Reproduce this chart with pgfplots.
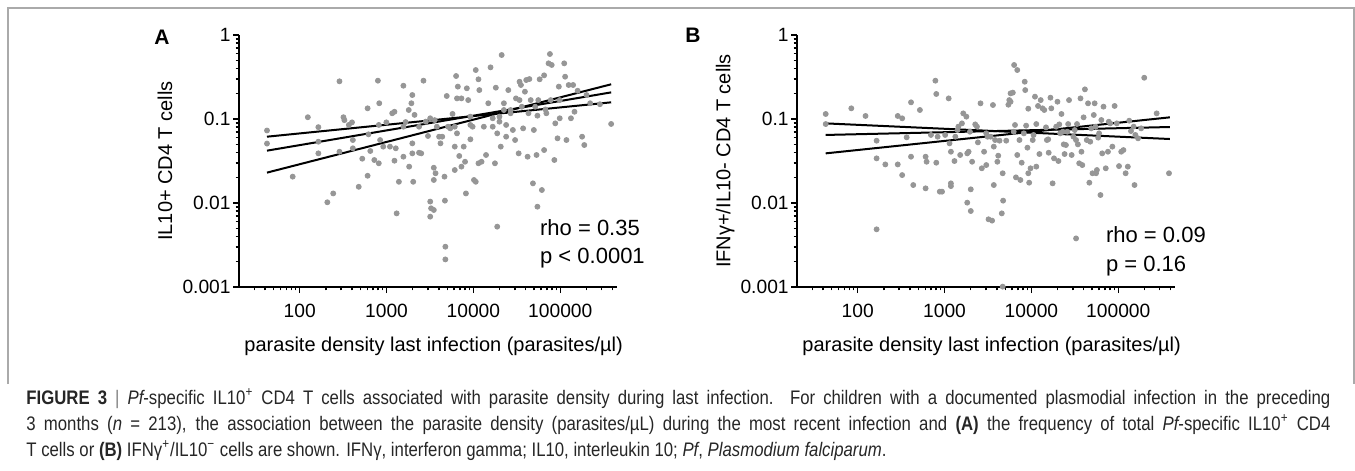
\documentclass[border=0pt]{standalone}
\usepackage{fontspec}
\setmainfont{Liberation Sans}
\newfontfamily\capfont[FakeStretch=0.855]{Liberation Sans}
\usepackage{pgfplots}
\usepackage{pgfplotstable}
\pgfplotsset{compat=1.18}
\definecolor{ptcol}{RGB}{150,150,150}
\definecolor{framecol}{RGB}{170,170,170}

\pgfplotstableread{
x y
42 0.073
42 0.051
83 0.0206
124 0.105
164 0.080
164 0.0537
164 0.039
208 0.0102
243 0.013
287 0.281
319 0.105
327 0.097
400 0.0912
368 0.085
409 0.0562
409 0.0448
287 0.0408
478 0.0156
525 0.0337
605 0.134
605 0.0211
620 0.0657
650 0.0416
723 0.0325
795 0.286
814 0.0297
814 0.085
824 0.154
843 0.0562
916 0.0469
995 0.0912
1094 0.0469
1161 0.117
1233 0.0319
1233 0.122
1277 0.0448
1306 0.00753
1387 0.0179
1563 0.249
1563 0.0356
1656 0.092
1800 0.128
1820 0.0271
1932 0.154
1980 0.193
1980 0.0513
1980 0.039
2027 0.0179
2100 0.112
2366 0.081
2366 0.0397
2506 0.039
2661 0.286
2825 0.093
2998 0.0628
3180 0.102
3180 0.00688
3180 0.0104
3256 0.00865
3499 0.00826
3499 0.0263
3664 0.0226
3499 0.0188
3581 0.097
3795 0.081
4027 0.0616
4176 0.0513
4375 0.0616
4699 0.01067
4754 0.00302
4754 0.00213
4645 0.0206
4932 0.188
5108 0.081
5418 0.0774
5750 0.115
6100 0.081
6100 0.0469
6100 0.0247
6320 0.325
6470 0.176
6620 0.243
6870 0.0363
7280 0.0271
7280 0.176
7730 0.0469
8010 0.031
8200 0.013
8400 0.232
8710 0.168
9230 0.0573
9230 0.1067
9790 0.081
10150 0.0188
10640 0.0179
10640 0.383
11430 0.297
11430 0.0297
11700 0.221
12400 0.031
13180 0.081
13970 0.0373
14830 0.154
15740 0.412
16680 0.102
16680 0.081
17700 0.0297
18120 0.236
18790 0.00523
19950 0.1067
19950 0.093
20650 0.0469
21150 0.578
22440 0.154
23820 0.085
23820 0.0616
25230 0.221
26790 0.128
28440 0.074
30200 0.0562
30900 0.176
33190 0.039
33970 0.278
35240 0.254
36060 0.140
37350 0.0774
39170 0.2115
40570 0.291
42060 0.0356
44060 0.299
45690 0.168
48450 0.01714
49620 0.074
51420 0.140
53300 0.0373
54560 0.00904
54560 0.1096
55850 0.168
57920 0.297
61400 0.01428
65160 0.0427
65160 0.331
67450 0.130
69150 0.117
73300 0.46
76000 0.594
79700 0.44
85500 0.0325
87600 0.0888
93000 0.0589
96300 0.243
98600 0.102
111000 0.46
113700 0.319
117800 0.0562
125000 0.254
132700 0.102
140600 0.254
145800 0.122
158500 0.217
178400 0.0616
189100 0.049
200700 0.193
220800 0.154
286400 0.150
385500 0.0873
9230 0.085
22440 0.128
33970 0.168
77700 0.168
18790 0.0675
1563 0.081
6470 0.0675
26790 0.117
43050 0.117
98600 0.168
}\dataA

\pgfplotstableread{
x y
42.8 0.1148
42.8 0.0871
84.4 0.134
123 0.1087
165 0.0552
165 0.034
165 0.00486
208 0.0288
289 0.1087
289 0.0288
325 0.1019
325 0.0215
366 0.0605
411 0.158
411 0.0356
436 0.01637
520 0.128
605 0.0356
621 0.031
605 0.01495
697 0.0646
784 0.286
803 0.1986
832 0.0616
803 0.0302
881 0.01365
935 0.01365
1016 0.0646
1115 0.176
1141 0.0513
1183 0.0408
1183 0.01714
1183 0.0159
1300 0.0316
1330 0.0616
1409 0.0739
1442 0.0811
1513 0.0373
1585 0.0887
1641 0.1167
1824 0.0101
2004 0.00803
1782 0.1067
1824 0.039
1891 0.0408
1958 0.0706
2004 0.01455
2076 0.031
2254 0.0863
2360 0.0811
2421 0.0527
2594 0.1537
2685 0.0259
2851 0.0408
3020 0.0675
3020 0.0283
3130 0.0616
3206 0.0064
3524 0.00617
3396 0.0616
3606 0.1468
3690 0.01637
3690 0.0469
3820 0.0562
4055 0.031
4150 0.0366
4295 0.0552
4560 0.00753
4667 0.0226
4721 0.01067
5128 0.0552
5433 0.148
5560 0.168
5754 0.1607
5754 0.202
6109 0.206
6252 0.0706
6324 0.4395
6871 0.383
6471 0.0849
6637 0.0202
6871 0.0373
7278 0.0562
7464 0.0188
7727 0.0302
8185 0.0675
8375 0.278
8488 0.221
8690 0.0834
8995 0.0456
9204 0.1327
9204 0.0226
9419 0.01746
9772 0.0259
10350 0.0562
10590 0.0646
10990 0.1845
11380 0.0871
11380 0.0271
11910 0.143
12360 0.0383
12790 0.168
13400 0.134
14060 0.128
14720 0.0796
15070 0.0562
15600 0.0573
15810 0.0397
16560 0.1795
16940 0.134
17540 0.01714
18200 0.034
19280 0.0811
19950 0.1607
20460 0.0316
20940 0.0863
21430 0.0675
22180 0.1148
23010 0.0706
23550 0.0499
24100 0.0383
24950 0.049
25880 0.0706
26490 0.0871
27100 0.168
29040 0.0373
30480 0.0616
31550 0.0739
32660 0.0562
33500 0.0871
34280 0.0499
35480 0.0297
36730 0.176
37670 0.0408
38550 0.0283
39900 0.1047
41300 0.2255
43350 0.0562
44870 0.1537
46450 0.01746
47530 0.0537
48750 0.0774
50470 0.0226
52240 0.1117
53460 0.1537
54830 0.0811
55460 0.0226
56750 0.0247
58750 0.060
60120 0.0675
62370 0.01245
63830 0.0973
65310 0.039
67610 0.1403
71780 0.0259
76030 0.0408
77800 0.0929
80700 0.0887
85500 0.0469
90780 0.143
96160 0.0887
102000 0.0275
108100 0.0408
114600 0.0427
121600 0.0226
128800 0.0271
133600 0.0955
140000 0.0719
150300 0.0811
153800 0.01637
157400 0.0646
169000 0.0589
183300 0.0774
199100 0.310
276700 0.1167
383700 0.0226
32660 0.00379
4667 0.00101
}\dataB

\pgfplotsset{
  every axis/.append style={
    scale only axis,
    width=189pt, height=126pt,
    xmin=20, xmax=450000,
    ymin=0.001, ymax=1,
    axis x line=bottom, axis y line=left,
    axis line style={-, line width=1pt},
    tick align=outside,
    major tick length=3pt, minor tick length=1.7pt,
    every tick/.style={black, line width=0.7pt},
    xtick={100,1000,10000,100000},
    xticklabels={100,1000,10000,100000},
    minor xtick={30,40,50,60,70,80,90,200,300,400,500,600,700,800,900,2000,3000,4000,5000,6000,7000,8000,9000,20000,30000,40000,50000,60000,70000,80000,90000,200000,300000,400000},
    ytick={0.001,0.01,0.1,1},
    yticklabels={0.001,0.01,0.1,1},
    minor ytick={0.002,0.003,0.004,0.005,0.006,0.007,0.008,0.009,0.02,0.03,0.04,0.05,0.06,0.07,0.08,0.09,0.2,0.3,0.4,0.5,0.6,0.7,0.8,0.9},
    tick label style={font=\fontsize{9.6}{11}\selectfont},
    xticklabel style={yshift=-2pt},
    yticklabel style={inner sep=1pt},
    label style={font=\fontsize{11.3}{13}\selectfont},
    clip=false,
  },
}

\begin{document}
\begin{tikzpicture}[x=1pt,y=1pt]
\useasboundingbox (0,0) rectangle (677.5,-235.5);
\draw[framecol, line width=0.8pt] (4,-192) -- (4,-4) -- (677,-4) -- (677,-192);

\node[font=\bfseries\fontsize{10.5}{12}\selectfont] at (81,-18.5) {A};
\node[font=\bfseries\fontsize{10.5}{12}\selectfont] at (346.5,-17.5) {B};

\begin{loglogaxis}[at={(119.5pt,-143.5pt)}, anchor=south west,
  xlabel={parasite density last infection (parasites/µl)},
  ylabel={IL10+ CD4 T cells},
  every axis x label/.style={at={(axis description cs:0.515,-0.254)}, anchor=base},
  every axis y label/.style={at={(axis description cs:-0.196,0.5)}, rotate=90, anchor=center}]
  \addplot[only marks, mark=*, mark size=1.25pt, color=ptcol] table[x=x,y=y] {\dataA};
  \addplot[black, line width=1pt, no marks] coordinates {(42,0.042) (385500,0.2075)};
  \addplot[black, line width=1pt, no marks] coordinates {(42,0.0616) (385500,0.158)};
  \addplot[black, line width=1pt, no marks] coordinates {(42,0.023) (385500,0.259)};
  \node[anchor=base west, font=\fontsize{11}{13}\selectfont] at (axis description cs:0.778,0.206) {rho = 0.35};
  \node[anchor=base west, font=\fontsize{11}{13}\selectfont] at (axis description cs:0.778,0.095) {p < 0.0001};
\end{loglogaxis}

\begin{loglogaxis}[at={(398.5pt,-143.5pt)}, anchor=south west,
  xlabel={parasite density last infection (parasites/µl)},
  ylabel={IFNγ+/IL10- CD4 T cells},
  every axis x label/.style={at={(axis description cs:0.515,-0.254)}, anchor=base},
  every axis y label/.style={at={(axis description cs:-0.19,0.5)}, rotate=90, anchor=center}]
  \addplot[only marks, mark=*, mark size=1.25pt, color=ptcol] table[x=x,y=y] {\dataB};
  \addplot[black, line width=1pt, no marks] coordinates {(42.8,0.0887) (392600,0.0578)};
  \addplot[black, line width=1pt, no marks] coordinates {(42.8,0.0646) (392600,0.0803)};
  \addplot[black, line width=1pt, no marks] coordinates {(42.8,0.039) (392600,0.1047)};
  \node[anchor=base west, font=\fontsize{11}{13}\selectfont] at (axis description cs:0.799,0.175) {rho = 0.09};
  \node[anchor=base west, font=\fontsize{11}{13}\selectfont] at (axis description cs:0.799,0.063) {p = 0.16};
\end{loglogaxis}

\node[anchor=base west, inner sep=0pt, font=\capfont\fontsize{9.8}{11}\selectfont, text=black!85] at (13,-202) {\makebox[652pt][s]{{\bfseries FIGURE 3} {\color{gray}|} {\itshape Pf}-specific IL10\textsuperscript{+} CD4 T cells associated with parasite density during last infection. For children with a documented plasmodial infection in the preceding}};
\node[anchor=base west, inner sep=0pt, font=\capfont\fontsize{9.8}{11}\selectfont, text=black!85] at (13,-215) {\makebox[652pt][s]{3 months ({\itshape n} = 213), the association between the parasite density (parasites/µL) during the most recent infection and {\bfseries (A)} the frequency of total {\itshape Pf}-specific IL10\textsuperscript{+} CD4}};
\node[anchor=base west, inner sep=0pt, font=\capfont\fontsize{9.8}{11}\selectfont, text=black!85] at (13,-228) {T cells or {\bfseries (B)} IFNγ\textsuperscript{+}/IL10\textsuperscript{−} cells are shown. IFNγ, interferon gamma; IL10, interleukin 10; {\itshape Pf}, {\itshape Plasmodium falciparum}.};
\end{tikzpicture}
\end{document}
